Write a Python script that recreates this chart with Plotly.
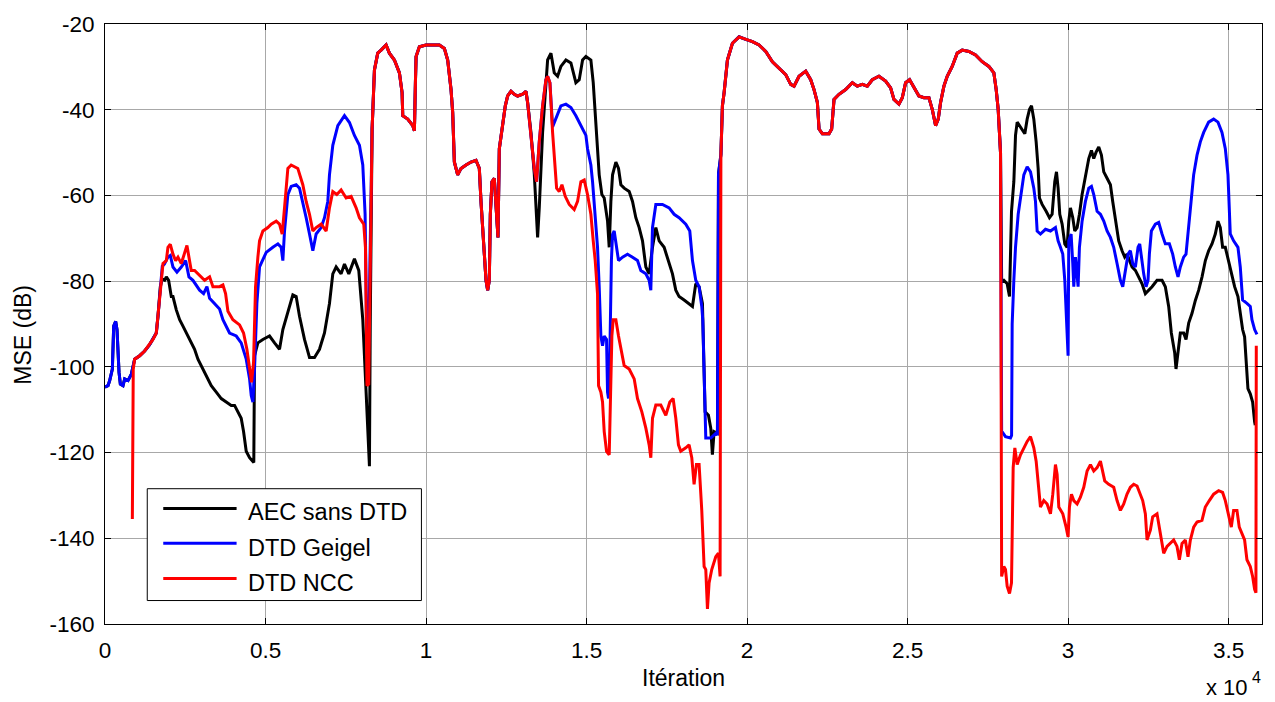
import plotly.graph_objects as go

# ---------------- data (x = iteration, y = MSE in dB) ----------------
start_seg = [(0, -104.7), (94, -104.4), (146, -103.2), (229, -100.5), (271, -90.5), (333, -89.4),
             (374, -91.3), (437, -101.3), (478, -104), (561, -104.4), (613, -102.8), (717, -103.2),
             (820, -101.7), (924, -98.2), (1080, -97.4), (1235, -96.3), (1391, -94.8), (1495, -93.6),
             (1598, -92.1), (1650, -88.2), (1723, -81.3)]

red_head = [(852, -135.5), (860, -104), (880, -100.5)]

blue_a = [(1785, -76.5), (1850, -76), (1961, -74.4), (2034, -74), (2117, -76.7), (2241, -77.9),
          (2376, -76.7), (2511, -75.2), (2615, -79), (2739, -79.8), (2843, -80.9), (2947, -82.1),
          (3071, -82.9), (3175, -81.3), (3258, -84), (3413, -85.2), (3569, -86.5), (3673, -89),
          (3880, -92.1), (4088, -92.8), (4243, -94.4), (4399, -98.2), (4503, -102.8), (4555, -106.7),
          (4607, -108.2), (4658, -100.5), (4731, -85.2), (4814, -76.7), (5021, -73.3), (5229, -72.1),
          (5385, -71.3), (5488, -72.1), (5540, -75.2), (5592, -68.3), (5696, -59.8), (5799, -57.9),
          (5955, -57.5), (6059, -58.3), (6162, -61.4), (6266, -65.2), (6370, -69), (6474, -72.9),
          (6577, -69), (6733, -67.5), (6837, -65.2), (6940, -61.4), (6992, -55.2), (7096, -48.3),
          (7252, -43.7), (7459, -41.4), (7615, -43), (7770, -46), (7926, -48.3), (8030, -52.9),
          (8102, -64.4), (8150, -90), (8200, -100), (8250, -80), (8320, -44.5)]

red_a = [(1785, -76.5), (1806, -75.9), (1910, -75.2), (1961, -72.1), (2034, -71.4), (2117, -73.7),
         (2200, -75.2), (2273, -74.4), (2376, -75.9), (2480, -73.7), (2552, -71.7), (2615, -74.4),
         (2687, -77.5), (2791, -77.5), (2895, -78.2), (2999, -79), (3102, -79.8), (3258, -79),
         (3362, -81.3), (3466, -81.3), (3569, -81.3), (3673, -80.9), (3756, -82.9), (3829, -87),
         (3984, -89), (4192, -90.2), (4316, -92.1), (4420, -95.9), (4503, -100.5), (4565, -103.6),
         (4627, -99), (4689, -81.3), (4762, -74.4), (4814, -70.6), (4918, -68.3), (5073, -67.5),
         (5177, -66.7), (5333, -66), (5436, -66.7), (5519, -69), (5592, -62.9), (5696, -53.7),
         (5799, -52.9), (6006, -53.7), (6162, -57.5), (6266, -61.4), (6370, -64.4), (6474, -68.3),
         (6577, -67.5), (6733, -66.7), (6889, -68.3), (6992, -62.9), (7096, -59.1), (7220, -59.8),
         (7355, -58.7), (7511, -60.6), (7667, -60.2), (7822, -62.9), (7926, -65.2), (8060, -66.7),
         (8113, -72.1), (8160, -104.4), (8215, -104), (8258, -76.7), (8320, -44.5)]

black_a = [(1785, -79.5), (1858, -79.8), (1910, -79), (1982, -79.8), (2065, -83.6), (2117, -83.6),
           (2221, -86.7), (2325, -89), (2428, -90.5), (2532, -92.1), (2636, -93.6), (2791, -95.9),
           (2895, -98.2), (3051, -100.5), (3206, -102.8), (3310, -104.4), (3466, -105.9), (3621, -107.4),
           (3776, -108.2), (3932, -109), (4036, -109), (4140, -110.5), (4243, -112), (4316, -115.1),
           (4399, -119.7), (4503, -121.2), (4607, -122), (4635, -122.3), (4658, -97.4), (4762, -94.4),
           (4918, -93.6), (5125, -92.8), (5281, -94.4), (5436, -95.9), (5540, -91.3), (5696, -87.5),
           (5851, -83.2), (5955, -83.6), (6059, -88.2), (6214, -93.6), (6370, -97.8), (6526, -97.8),
           (6681, -95.9), (6837, -92.1), (6992, -85.2), (7096, -78.3), (7200, -76.7), (7355, -78.3),
           (7459, -76), (7594, -78.3), (7770, -74.8), (7905, -77.5), (8030, -89), (8133, -105.9),
           (8237, -123.2), (8262, -90), (8320, -44.5)]

common_a = [(8393, -30.7), (8496, -26.8), (8600, -26.1), (8756, -24.9), (8859, -26.8), (9015, -28.4),
            (9171, -31.4), (9254, -36), (9275, -41.4), (9430, -42.2), (9586, -43.7), (9638, -44.9),
            (9669, -33.7), (9690, -27.6), (9793, -25.3), (10000, -24.9), (10415, -24.9), (10571, -25.7),
            (10675, -28.4), (10779, -35.3), (10830, -40.6), (10882, -52.2), (10986, -55.2), (11090, -53.7),
            (11245, -52.9), (11401, -52.2), (11556, -51.8), (11660, -53.7), (11712, -61.4), (11764, -68.3),
            (11816, -75.2), (11868, -79.8), (11920, -82.1), (11971, -79.8), (12003, -64.4), (12054, -56.8),
            (12127, -56), (12179, -61.4), (12241, -69.8), (12283, -49.1), (12386, -42.9), (12469, -39.1),
            (12542, -36.8), (12646, -35.7), (12749, -36.4), (12853, -36.8), (13008, -36.4), (13112, -35.7),
            (13164, -38.3), (13268, -45.3)]

common_a2 = [(13372, -53.7), (13444, -56.8), (13527, -47.5), (13631, -39.1), (13735, -33),
             (13787, -32.2), (13859, -33.7)]

red_b = [(13942, -45.3), (14025, -52.9), (14067, -58.3), (14150, -59.1), (14233, -57.5), (14336, -60.2),
         (14461, -62.1), (14616, -63.3), (14720, -61.4), (14824, -56.8), (14927, -56.4), (15031, -59.8),
         (15135, -64.4), (15208, -70.6), (15270, -75.2), (15342, -83), (15374, -104.4), (15446, -105.9),
         (15498, -108.2), (15550, -115.1), (15623, -119.7), (15706, -120.5), (15758, -104.4), (15789, -92.8),
         (15830, -89), (15913, -89), (15996, -92.8), (16069, -95.9), (16172, -99.7), (16328, -100.5),
         (16484, -102.8), (16587, -107.4), (16722, -110.5), (16847, -114.3), (16950, -118.2), (17002, -121.2),
         (17054, -112), (17158, -108.9), (17313, -108.9), (17469, -111.3), (17594, -108.2), (17697, -107.4),
         (17780, -112), (17863, -118.2), (17935, -119.7), (18091, -118.9), (18194, -118.2), (18278, -121.2),
         (18350, -127.4), (18423, -122.8), (18506, -122.8), (18589, -133.5), (18662, -146.6), (18714, -147.3),
         (18766, -156.5), (18817, -150.4), (18900, -147.3), (19025, -144.3), (19108, -143.5), (19160, -148.9),
         (19185, -50.5), (19232, -39.1)]

blue_b = [(13942, -44), (14067, -41.4), (14201, -39.1), (14357, -38.7), (14513, -39.5), (14668, -41.4),
          (14824, -43.7), (14980, -46), (15031, -49.1), (15135, -52.9), (15187, -56.8), (15270, -64.4),
          (15342, -72.1), (15394, -81.3), (15446, -92.8), (15498, -95.1), (15550, -92.8), (15623, -93.6),
          (15654, -105.9), (15685, -107.4), (15726, -96.7), (15775, -75), (15810, -69.1), (15861, -68.3),
          (15913, -70.6), (15996, -75.2), (16121, -74.4), (16276, -73.7), (16432, -74.4), (16587, -75.2),
          (16691, -77.5), (16847, -78.3), (16950, -79.8), (17002, -82.1), (17054, -67.5), (17158, -62.1),
          (17365, -62.1), (17573, -62.9), (17728, -64.4), (17883, -65.2), (18091, -66.7), (18216, -68.3),
          (18299, -75.2), (18402, -79.8), (18506, -81.3), (18589, -85.9), (18620, -89), (18662, -100.5),
          (18693, -112), (18714, -116.6), (18869, -116.6), (19025, -115.5), (19077, -115.9), (19110, -55),
          (19185, -50.5), (19232, -39.1)]

black_b = [(13372, -55), (13424, -64.4), (13476, -69.8), (13527, -62.9), (13631, -45.3), (13787, -28.4),
           (13891, -26.8), (13994, -31.4), (14098, -32.2), (14201, -29.9), (14357, -28.4), (14513, -29.1),
           (14668, -33.7), (14772, -33), (14876, -28.4), (14980, -27.6), (15135, -28.4), (15208, -33.7),
           (15291, -43.7), (15394, -55.2), (15477, -59.8), (15550, -60.6), (15654, -66), (15706, -72.1),
           (15758, -61.4), (15810, -55.2), (15913, -52.2), (15996, -53.7), (16069, -57.5), (16172, -58.3),
           (16328, -59.1), (16432, -61.4), (16535, -65.2), (16639, -67.5), (16743, -70.6), (16847, -76.7),
           (16950, -78.3), (17054, -72.1), (17158, -67.5), (17262, -70.6), (17417, -72.1), (17552, -75.2),
           (17676, -78.3), (17780, -82.1), (17883, -83.6), (18039, -84.4), (18194, -85.2), (18299, -85.9),
           (18402, -80.6), (18506, -81.3), (18610, -85.2), (18662, -104.4), (18693, -110.5), (18797, -111.3),
           (18869, -114.3), (18920, -120.5), (18973, -115.1), (19077, -115.5), (19110, -55), (19185, -50.5),
           (19232, -39.1)]

common_b = [(19285, -36), (19388, -28.4), (19544, -24.5), (19751, -23), (19959, -23.6), (20167, -24.1),
            (20374, -24.9), (20582, -26.4), (20789, -28.8), (20996, -30.3), (21204, -31.8), (21360, -34.1),
            (21464, -34.5), (21619, -32.2), (21827, -31), (21982, -33), (22086, -35.3), (22190, -38.3),
            (22242, -44.5), (22345, -45.6), (22552, -45.6), (22635, -44.5), (22709, -37.6), (22864, -36.4),
            (23071, -35.3), (23279, -33.7), (23434, -34.5), (23590, -34.1), (23745, -34.5), (23901, -33),
            (24108, -32.2), (24316, -33.3), (24472, -34.9), (24575, -37.6), (24731, -38.7), (24835, -37.2),
            (24939, -33.7), (25063, -33), (25198, -34.9), (25353, -36.8), (25509, -37.2), (25665, -37.2),
            (25768, -39.9), (25872, -43.7), (25955, -42.2), (26028, -38.3), (26132, -34.5), (26235, -32.2),
            (26390, -29.9), (26546, -26.8), (26702, -26.1), (26909, -26.4), (27117, -27.2), (27324, -28.8),
            (27532, -29.9), (27687, -31.4), (27760, -35.3), (27822, -39.9), (27895, -50)]

red_c = [(27930, -148.9), (27998, -146.6), (28050, -147.3), (28102, -151.2), (28175, -152.9), (28237, -150.4),
         (28258, -135), (28289, -123.5), (28341, -118.9), (28414, -122.8), (28517, -120.5), (28621, -118.9),
         (28725, -117.4), (28829, -116.3), (28932, -118.9), (29005, -122), (29088, -128.1), (29139, -132.7),
         (29243, -131.2), (29347, -132), (29451, -134.3), (29523, -129.7), (29606, -122.8), (29658, -125.1),
         (29710, -132.7), (29835, -134.3), (29938, -137.4), (30000, -139.7), (30042, -132.7), (30104, -129.7),
         (30177, -131.2), (30281, -132), (30384, -130.4), (30488, -128.1), (30592, -124.3), (30696, -122.8),
         (30799, -124.3), (30903, -123.5), (31007, -122), (31079, -124.3), (31141, -126.6), (31266, -127.4),
         (31421, -128.1), (31525, -131.2), (31629, -133.5), (31733, -132), (31836, -129.7), (31940, -128.1),
         (32044, -127.4), (32148, -127.8), (32252, -129.7), (32324, -131.2), (32407, -134.3), (32459, -140.4),
         (32563, -138.1), (32635, -135), (32770, -134.3), (32874, -138.9), (32978, -143.5), (33082, -141.9),
         (33185, -141.2), (33289, -140.4), (33393, -141.9), (33466, -145), (33549, -141.2), (33652, -140.4),
         (33735, -144.3), (33808, -140.4), (33912, -137.4), (34016, -136.2), (34170, -135.8), (34274, -132.7),
         (34399, -131.2), (34534, -129.7), (34689, -128.9), (34813, -129.3), (34897, -131.2), (35000, -134.3),
         (35083, -137.4), (35156, -133.5), (35260, -133.5), (35332, -137.4), (35415, -138.9), (35498, -140.4),
         (35571, -145), (35675, -146.6), (35748, -148.9), (35810, -151.9), (35851, -152.7), (35862, -95.1)]

blue_c = [(27930, -115), (28050, -116.3), (28205, -116.6), (28240, -116), (28258, -90), (28310, -79.8),
          (28362, -72.1), (28445, -64.4), (28517, -60.6), (28621, -55.2), (28725, -53.3), (28829, -54.5),
          (28932, -58.3), (28984, -61.4), (29036, -68.3), (29139, -69), (29295, -67.9), (29451, -68.3),
          (29606, -67.5), (29689, -70.6), (29762, -72.1), (29834, -73.7), (29897, -79.8), (29938, -87.5),
          (29969, -95.1), (30000, -97.4), (30021, -70.6), (30094, -69), (30146, -75.9), (30177, -81.3),
          (30229, -74.4), (30312, -81.3), (30353, -72.1), (30436, -66), (30540, -61.4), (30644, -58.3),
          (30727, -57.9), (30799, -59.8), (30903, -63.7), (31007, -64.4), (31111, -66), (31214, -68.3),
          (31318, -69.8), (31421, -72.1), (31525, -75.9), (31629, -79.8), (31702, -81.3), (31785, -77.5),
          (31868, -73.7), (31940, -72.9), (32013, -75.9), (32096, -76.7), (32179, -72.1), (32231, -71.3),
          (32283, -74.4), (32355, -78.3), (32428, -81.3), (32490, -79.8), (32532, -73.7), (32594, -68.3),
          (32718, -66.7), (32822, -66.3), (32926, -69), (33029, -71.3), (33154, -71.3), (33258, -73.7),
          (33341, -76.7), (33424, -79), (33496, -76.7), (33600, -74.4), (33673, -73.7), (33756, -67.5),
          (33828, -60.6), (33911, -55.2), (34016, -50.6), (34119, -47.5), (34223, -45.3), (34378, -42.9),
          (34534, -42.2), (34669, -42.9), (34793, -45.3), (34897, -49.1), (34980, -55.2), (35021, -61.4),
          (35052, -69), (35156, -70.6), (35291, -72.1), (35363, -76.7), (35436, -84.4), (35571, -85.2),
          (35675, -85.9), (35727, -89), (35810, -91.3), (35882, -92.4)]

black_c = [(27930, -80), (27998, -79.8), (28102, -80.6), (28175, -83.6), (28237, -63.7), (28310, -56.8),
           (28362, -46), (28414, -42.9), (28486, -43.7), (28569, -44.9), (28652, -45.6), (28725, -42.2),
           (28798, -39.9), (28860, -39.1), (28932, -42.2), (29005, -47.5), (29067, -53.7), (29108, -60.6),
           (29191, -62.1), (29316, -63.7), (29420, -65.2), (29502, -64.4), (29585, -56.8), (29638, -54.5),
           (29689, -58.3), (29741, -64.4), (29814, -66.7), (29897, -71.3), (29969, -72.1), (30021, -66),
           (30073, -62.9), (30146, -65.2), (30208, -68.3), (30281, -67.5), (30353, -64.4), (30436, -59.8),
           (30540, -55.2), (30644, -51.4), (30727, -49.5), (30799, -51.4), (30872, -49.9), (30955, -48.7),
           (31038, -50.6), (31111, -54.5), (31214, -56), (31318, -57.5), (31390, -61.4), (31473, -66),
           (31577, -70.6), (31681, -72.9), (31764, -74.4), (31836, -73.7), (31909, -75.2), (31992, -76.7),
           (32096, -77.5), (32200, -79), (32304, -80.6), (32407, -82.9), (32511, -82.1), (32615, -81.3),
           (32770, -79.8), (32926, -79.8), (33029, -81.3), (33133, -85.9), (33216, -92.1), (33320, -96.7),
           (33361, -100.5), (33424, -95.9), (33496, -92.1), (33600, -92.1), (33673, -93.6), (33756, -89.8),
           (33860, -87.5), (33964, -84.5), (34068, -82.1), (34172, -79), (34276, -75.2), (34378, -72.9),
           (34482, -71.3), (34585, -69), (34669, -66), (34741, -67.5), (34813, -72.1), (34897, -72.1),
           (35000, -75.2), (35083, -78.3), (35187, -81.3), (35291, -83.6), (35363, -87.5), (35436, -91.3),
           (35498, -93), (35539, -98.2), (35602, -105.1), (35675, -106.3), (35748, -108.2), (35810, -112.8),
           (35830, -113.6)]

series_names = ["AEC sans DTD", "DTD Geigel", "DTD NCC"]
series_colors = ["#000000", "#0000ff", "#ff0000"]
x_tick_vals = [0, 5000, 10000, 15000, 20000, 25000, 30000, 35000]
x_tick_text = ["0", "0.5", "1", "1.5", "2", "2.5", "3", "3.5"]
y_tick_vals = [-160, -140, -120, -100, -80, -60, -40, -20]
y_tick_text = ["-160", "-140", "-120", "-100", "-80", "-60", "-40", "-20"]

# ---------------- assemble series ----------------
black = start_seg + black_a + common_a + black_b + common_b + black_c
blue = start_seg + blue_a + common_a + common_a2 + blue_b + common_b + blue_c
red = red_head + start_seg[13:] + red_a + common_a + common_a2 + red_b + common_b + red_c

FONT = "Liberation Sans, Arial, sans-serif"
fig = go.Figure()
for name, col, pts in zip(series_names, series_colors, [black, blue, red]):
    fig.add_trace(go.Scatter(x=[p[0] for p in pts], y=[p[1] for p in pts], mode="lines", name=name,
                             line=dict(color=col, width=3), showlegend=False))

# plot area pixel geometry
L, R, T, B = 105, 1263, 16, 624.5
W, H = R - L, B - T


def px(xp):
    return (xp - L) / W


def py(yp):
    return (B - yp) / H


shapes = []
annotations = []
# manual legend (MATLAB style)
shapes.append(dict(type="rect", xref="paper", yref="paper", x0=px(147.3), x1=px(421.7), y0=py(600.7),
                   y1=py(487.3), line=dict(color="black", width=1), fillcolor="white", layer="above"))
for i, (name, col) in enumerate(zip(series_names, series_colors)):
    ly = [507.3, 542.7, 578.3][i]
    ty = [511.3, 547.0, 582.5][i]
    shapes.append(dict(type="line", xref="paper", yref="paper", x0=px(163.3), x1=px(236.7), y0=py(ly),
                       y1=py(ly), line=dict(color=col, width=3), layer="above"))
    annotations.append(dict(text=name, xref="paper", yref="paper", x=px(246), y=py(ty), xanchor="left",
                            yanchor="middle", showarrow=False, font=dict(family=FONT, size=23.5, color="black")))

annotations.append(dict(text="Itération", xref="paper", yref="paper", x=0.5, y=py(679), xanchor="center",
                        yanchor="middle", showarrow=False, font=dict(family=FONT, size=23, color="black")))
annotations.append(dict(text="MSE (dB)", xref="paper", yref="paper", x=px(23), y=py(331), xanchor="center",
                        yanchor="middle", textangle=-90, showarrow=False,
                        font=dict(family=FONT, size=23, color="black")))
annotations.append(dict(text="x 10", xref="paper", yref="paper", x=px(1251), y=py(689), xanchor="right",
                        yanchor="middle", showarrow=False, font=dict(family=FONT, size=22, color="black")))
annotations.append(dict(text="4", xref="paper", yref="paper", x=px(1257.5), y=py(679), xanchor="center",
                        yanchor="middle", showarrow=False, font=dict(family=FONT, size=16, color="black")))

axis_common = dict(showline=True, linecolor="black", linewidth=1, mirror="allticks", ticks="inside",
                   ticklen=6, tickcolor="black", showgrid=True, gridcolor="#a8a8a8", gridwidth=1,
                   zeroline=False, tickfont=dict(family=FONT, size=22.5, color="black"))

fig.update_layout(
    width=1275, height=702,
    margin=dict(l=L, r=1275 - R, t=T, b=702 - B),
    paper_bgcolor="white", plot_bgcolor="white",
    xaxis=dict(range=[0, 36040], tickvals=x_tick_vals, ticktext=x_tick_text, ticklabelstandoff=6,
               **axis_common),
    yaxis=dict(range=[-160, -20], tickvals=y_tick_vals, ticktext=y_tick_text, ticklabelstandoff=5,
               **axis_common),
    shapes=shapes, annotations=annotations,
)

fig.write_html("out.html")
